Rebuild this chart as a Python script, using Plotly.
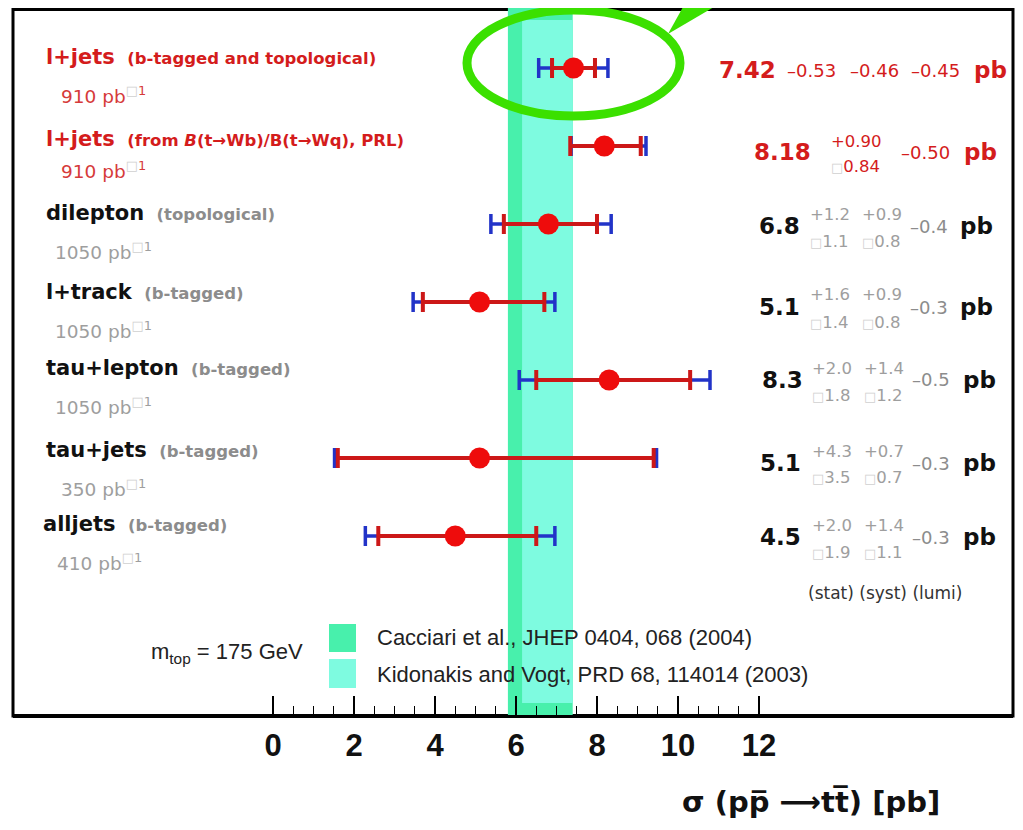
import plotly.graph_objects as go

# ---------------- data ----------------
channels = ["l+jets", "l+jets", "dilepton", "l+track", "tau+lepton", "tau+jets", "alljets"]
methods = ["(b-tagged and topological)", "(from <i>B</i>(t→Wb)/B(t→Wq), PRL)", "(topological)",
           "(b-tagged)", "(b-tagged)", "(b-tagged)", "(b-tagged)"]
lumis = ["910", "910", "1050", "1050", "1050", "350", "410"]
xsec = [7.42, 8.18, 6.8, 5.1, 8.3, 5.1, 4.5]
xsec_txt = ["7.42", "8.18", "6.8", "5.1", "8.3", "5.1", "4.5"]
stat_up = ["0.53", "0.90", "1.2", "1.6", "2.0", "4.3", "2.0"]
stat_dn = ["0.53", "0.84", "1.1", "1.4", "1.8", "3.5", "1.9"]
syst_up = ["0.46", "", "0.9", "0.9", "1.4", "0.7", "1.4"]
syst_dn = ["0.46", "", "0.8", "0.8", "1.2", "0.7", "1.1"]
lumi_err = ["0.45", "0.50", "0.4", "0.3", "0.5", "0.3", "0.3"]
# inner (red) error bars
inner_up = [0.53, 0.90, 1.2, 1.6, 2.0, 4.3, 2.0]
inner_dn = [0.53, 0.84, 1.1, 1.4, 1.8, 3.5, 1.9]
# total (blue) error bars
total_up = [0.85, 1.03, 1.55, 1.86, 2.49, 4.37, 2.46]
total_dn = [0.86, 0.82, 1.42, 1.64, 2.22, 3.58, 2.22]
highlight = [True, True, False, False, False, False, False]
rows = list(range(len(channels)))

theory_names = ["Cacciari et al., JHEP 0404, 068 (2004)", "Kidonakis and Vogt, PRD 68, 114014 (2003)"]
theory_lo = [5.8, 6.15]
theory_hi = [7.4, 7.4]

major_ticks = [0, 2, 4, 6, 8, 10, 12]
minor_ticks = [0.5, 1, 1.5, 2.5, 3, 3.5, 4.5, 5, 5.5, 6.5, 7, 7.5, 8.5, 9, 9.5, 10.5, 11, 11.5]

# ---------------- layout helpers ----------------
# the page body has an 8px margin, so the figure is drawn 8px in from the window corner
OFF = 8
W, H = 1023 - 2 * OFF, 830 - 2 * OFF
# plot frame in window (reference) pixels
X0, X1, Y0, Y1 = 13, 1013, 8, 716
ZERO_PX, PX_PER_UNIT = 273, 40.5


def px(x):
    return (x - X0) / (X1 - X0)


def py(y):
    return (Y1 - y) / (Y1 - Y0)


RED = "#d41c1c"
RED_LIGHT = "#d63a3a"
BLUE = "#2233c8"
GRAY = "#8c8c8c"
GRAY_L = "#9e9e9e"
BOX = "<span style='color:#d0d0d0;font-size:13px'>□</span>"
FONT = "DejaVu Sans"

fig = go.Figure()

# blue total error bars
fig.add_trace(go.Scatter(
    x=xsec, y=rows, mode="markers",
    marker=dict(size=1, color="rgba(0,0,0,0)"),
    error_x=dict(type="data", symmetric=False, array=total_up, arrayminus=total_dn,
                 color=BLUE, thickness=3.5, width=10),
    hoverinfo="skip"))
# red inner error bars + points
fig.add_trace(go.Scatter(
    x=xsec, y=rows, mode="markers",
    marker=dict(size=21, color="#ee0c0c", line=dict(width=0)),
    error_x=dict(type="data", symmetric=False, array=inner_up, arrayminus=inner_dn,
                 color="#cc1818", thickness=4, width=10)))

shapes = []
# frame
shapes.append(dict(type="rect", xref="paper", yref="paper", x0=0, x1=1, y0=0, y1=py(9.5),
                   line=dict(color="black", width=3), layer="below"))
shapes.append(dict(type="line", xref="paper", yref="paper", x0=0, x1=1, y0=0, y1=0,
                   line=dict(color="black", width=4), layer="below"))
# theory bands
band_cols = ["#48f0ac", "#7efbe0"]
band_top = [7, 20]
band_bot = [715, 703]
for i in range(2):
    shapes.append(dict(type="rect", xref="x", yref="paper", x0=theory_lo[i], x1=theory_hi[i],
                       y0=py(band_bot[i]), y1=py(band_top[i]),
                       fillcolor=band_cols[i], line=dict(width=0), layer="below"))
# legend squares
leg_sq = [(624, 652), (659, 688)]
for i in range(2):
    shapes.append(dict(type="rect", xref="paper", yref="paper", x0=px(329), x1=px(356),
                       y0=py(leg_sq[i][1]), y1=py(leg_sq[i][0]),
                       fillcolor=band_cols[i], line=dict(width=0)))
# green highlight ellipse and pointer
shapes.append(dict(type="circle", xref="paper", yref="paper", x0=px(467), x1=px(680),
                   y0=py(116), y1=py(10), line=dict(color="#3be000", width=9), layer="above"))
shapes.append(dict(type="path", xref="paper", yref="paper",
                   path=f"M {px(668)},{py(34)} L {px(683)},{py(7)} L {px(714)},{py(7)} Z",
                   fillcolor="#3be000", line=dict(width=0), layer="above"))

ann = []


def text(x, y, s, size, color, anchor="left", family=FONT):
    ann.append(dict(xref="paper", yref="paper", x=px(x), y=py(y), text=s, showarrow=False,
                    xanchor=anchor, yanchor="middle", font=dict(family=family, size=size, color=color)))


# left labels
lab_y = [57, 139, 213, 292, 368, 450, 524]
lumi_y = [95, 170, 251, 330, 406, 488, 562]
lab_x = [44, 44, 44, 44, 44, 44, 41]
lumi_x = [59, 59, 53, 53, 53, 59, 55]
for i in rows:
    c_main = RED if highlight[i] else "#111111"
    c_sub = RED if highlight[i] else GRAY
    c_lumi = RED_LIGHT if highlight[i] else GRAY_L
    text(lab_x[i], lab_y[i],
         f"<b>{channels[i]}</b> <b><span style='font-size:16.5px;color:{c_sub}'> {methods[i]}</span></b>",
         21, c_main)
    text(lumi_x[i], lumi_y[i], f"{lumis[i]} pb<sup>{BOX}1</sup>", 18.5, c_lumi)

# right-hand values
val_y = [70, 152, 226, 307, 380, 463, 537]
val_x = [717, 752, 757, 757, 760, 758, 758]
for i in rows:
    y = val_y[i]
    if i == 0:
        text(val_x[i], y, f"<b>{xsec_txt[i]}</b>", 23, RED)
        text(785, y, "–" + stat_up[i], 18, RED)
        text(848, y, "–" + syst_up[i], 18, RED)
        text(909, y, "–" + lumi_err[i], 18, RED)
        text(972, y, "<b>pb</b>", 23, RED)
    elif i == 1:
        text(val_x[i], y, f"<b>{xsec_txt[i]}</b>", 23, RED)
        text(829, y - 11, "+" + stat_up[i], 16.5, RED)
        text(829, y + 15, BOX + stat_dn[i], 16.5, RED)
        text(899, y + 1, "–" + lumi_err[i], 18, RED)
        text(962, y, "<b>pb</b>", 23, RED)
    else:
        c1 = 808 if i < 4 else 810
        c2 = 860 if i < 4 else 862
        lx = 908 if i < 4 else 910
        pbx = 958 if i < 4 else 961
        text(val_x[i], y, f"<b>{xsec_txt[i]}</b>", 23, "#111111")
        text(c1, y - 12, "+" + stat_up[i], 16.5, GRAY_L)
        text(c1, y + 15, BOX + stat_dn[i], 16.5, GRAY_L)
        text(c2, y - 12, "+" + syst_up[i], 16.5, GRAY_L)
        text(c2, y + 15, BOX + syst_dn[i], 16.5, GRAY_L)
        text(lx, y, "–" + lumi_err[i], 18, GRAY)
        text(pbx, y, "<b>pb</b>", 23, "#111111")

text(885, 593, "(stat) (syst) (lumi)", 17, "#333333", anchor="center")

# legend text
LEGF = "Liberation Sans"
text(149, 653, "m<sub>top</sub> = 175 GeV", 22, "#222222", family=LEGF)
text(375, 637, theory_names[0], 22, "#222222", family=LEGF)
text(375, 674, theory_names[1], 22, "#222222", family=LEGF)

# axis title
text(811, 802, "<b>σ (pp\u0305 ⟶tt\u0305) [pb]</b>", 29, "#111111", anchor="center",
     family="DejaVu Sans")

fig.update_layout(
    width=W, height=H,
    margin=dict(l=X0 - OFF, r=W + OFF - X1, t=Y0 - OFF, b=H + OFF - Y1),
    paper_bgcolor="white", plot_bgcolor="white",
    showlegend=False,
    shapes=shapes, annotations=ann,
    xaxis=dict(range=[(X0 - ZERO_PX) / PX_PER_UNIT, (X1 - ZERO_PX) / PX_PER_UNIT],
               showgrid=False, zeroline=False,
               showline=False, ticks="inside", ticklen=20, tickwidth=1.5, tickcolor="black",
               tickvals=major_ticks, ticktext=[str(t) for t in major_ticks],
               tickfont=dict(family="Liberation Sans", size=31, color="#111111", weight="bold"),
               ticklabelstandoff=8,
               minor=dict(tickvals=minor_ticks, ticks="inside", ticklen=10, tickwidth=1.2,
                          tickcolor="black")),
    yaxis=dict(range=[(Y1 - 68) / 78, (Y0 - 68) / 78], visible=False),
)

fig.write_html("out.html")
